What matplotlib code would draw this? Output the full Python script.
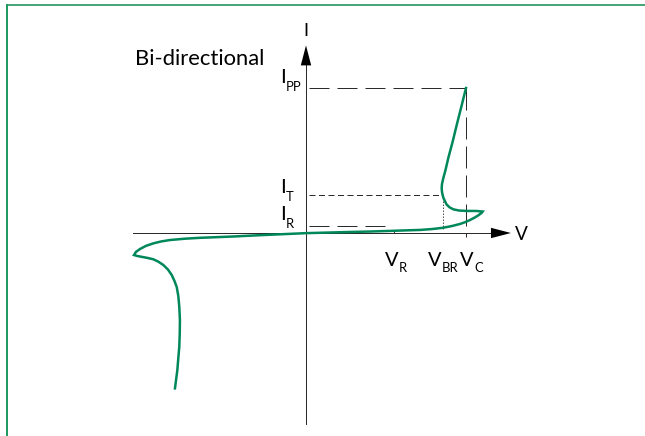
import matplotlib
matplotlib.use('Agg')
import matplotlib.pyplot as plt
from matplotlib.lines import Line2D

plt.rcParams['font.family'] = ['Lato', 'DejaVu Sans']
plt.rcParams['lines.scale_dashes'] = False

# I-V curve of a bi-directional TVS diode (arbitrary units)
v_curve = [10.0, 9.72, 9.42, 9.16, 8.89, 8.72, 8.58, 8.50, 8.48, 8.50, 8.54, 8.59,
           8.68, 8.79, 8.97, 9.21, 9.56, 10.04, 10.63, 11.04, 10.97, 10.77, 10.53,
           10.25, 9.94, 9.63, 9.13, 8.58, 7.88, 7.13, 6.25, 5.44, 4.0, 2.75, 1.38,
           0.0, -1.44, -2.88, -4.56, -6.63, -7.56, -8.5, -9.06, -9.54, -10.0, -10.38,
           -10.63, -10.75, -10.56, -10.38, -9.94, -9.54, -9.22, -8.92, -8.63, -8.39,
           -8.22, -8.08, -7.98, -7.92, -7.88, -7.89, -7.92, -7.98, -8.04, -8.19]
i_curve = [9.93, 8.70, 7.40, 6.23, 5.12, 4.32, 3.75, 3.36, 3.06, 2.81, 2.60, 2.40,
           2.19, 1.95, 1.76, 1.62, 1.54, 1.51, 1.51, 1.47, 1.37, 1.21, 1.05,
           0.89, 0.74, 0.62, 0.48, 0.36, 0.27, 0.21, 0.18, 0.15, 0.10, 0.07, 0.03,
           -0.01, -0.08, -0.15, -0.24, -0.33, -0.39, -0.48, -0.58, -0.71, -0.88, -1.10,
           -1.30, -1.51, -1.57, -1.61, -1.70, -1.80, -1.97, -2.19, -2.50, -2.88,
           -3.29, -3.70, -4.32, -5.05, -5.96, -6.85, -7.79, -8.56, -9.38, -10.64]

# characteristic points
V_R, V_BR, V_C = 5.5, 8.54, 10.0
I_PP, I_T, I_R = 9.93, 2.57, 0.45

green = '#00875a'
dark = '#2b2b2b'

# pixel layout: origin of the axes cross and scale
W, H = 645, 436
OX, OY = 306, 233
SX, SY = 16.0, 14.6

fig = plt.figure(figsize=(W / 72, H / 72), dpi=72)
ax = fig.add_axes([0, 0, 1, 1])
ax.set_xlim(-OX / SX, (W - OX) / SX)
ax.set_ylim(-(H - OY) / SY, OY / SY)
ax.axis('off')

# frame (top and left only)
fig.add_artist(Line2D([6.5 / W, 1], [1 - 5 / H, 1 - 5 / H], color='#4aa67a', lw=2))
fig.add_artist(Line2D([6.5 / W, 6.5 / W], [0, 1 - 5 / H], color='#1f9a60', lw=2))

# axes with arrows
ax.plot([-10.83, 11.7], [0, 0], color=dark, lw=1)
ax.plot([0, 0], [-13.08, 11.6], color=dark, lw=1)
arrow = dict(arrowstyle='-|>,head_length=1.0,head_width=0.26', color='black',
             mutation_scale=20, lw=0, shrinkA=0, shrinkB=0)
ax.annotate('', xy=(12.81, 0), xytext=(11.55, 0), arrowprops=arrow)
ax.annotate('', xy=(0, 12.85), xytext=(0, 11.45), arrowprops=arrow)
ax.annotate('V', xy=(12.81, 0), xytext=(4, -7), textcoords='offset points',
            fontsize=19, ha='left', va='baseline')
ax.annotate('I', xy=(0, 12.85), xytext=(0, 9), textcoords='offset points',
            fontsize=18, ha='center', va='baseline')

# reference lines
long_dash = (20, 8)
ax.plot([0.2, V_C], [I_PP, I_PP], color=dark, lw=1, dashes=long_dash)
ax.plot([V_C, V_C], [I_PP, -0.25], color=dark, lw=1, dashes=(22, 7))
ax.plot([0.2, V_BR], [I_T, I_T], color=dark, lw=1, dashes=(6, 3.5))
ax.plot([V_BR, V_BR], [I_T, 0.3], color=dark, lw=0.8, dashes=(1.5, 1.5))
ax.plot([0.2, 5.4], [I_R, I_R], color=dark, lw=1, dashes=long_dash)
ax.plot([V_R, V_R], [0, 0.22], color=dark, lw=1)

# the curve
ax.plot(v_curve, i_curve, color=green, lw=2.5, solid_joinstyle='miter')

# labels with subscripts: (text, sub, anchor, main offset, sub offset)
labels = [
    ('I', 'PP', (0, I_PP), (-25.5, 5), (-20.5, -2.5)),
    ('I', 'T', (0, I_T), (-25.5, 2.5), (-20.5, -5.5)),
    ('I', 'R', (0, I_R), (-25.5, 6.5), (-20.5, -1.5)),
    ('V', 'R', (V_R, 0), (-9, -33), (5, -39)),
    ('V', 'BR', (V_BR, 0), (-14.7, -33), (-0.5, -39)),
    ('V', 'C', (V_C, 0), (-6, -33), (8, -39)),
]
for main, sub, xy, off_main, off_sub in labels:
    ax.annotate(main, xy=xy, xytext=off_main, textcoords='offset points',
                fontsize=20, ha='left', va='baseline')
    ax.annotate(sub, xy=xy, xytext=off_sub, textcoords='offset points',
                fontsize=13, ha='left', va='baseline')

ax.annotate('Bi-directional', xy=(0, I_PP), xytext=(-171, 23), textcoords='offset points',
            fontsize=22, ha='left', va='baseline')

fig.savefig('out.png', dpi=72)
